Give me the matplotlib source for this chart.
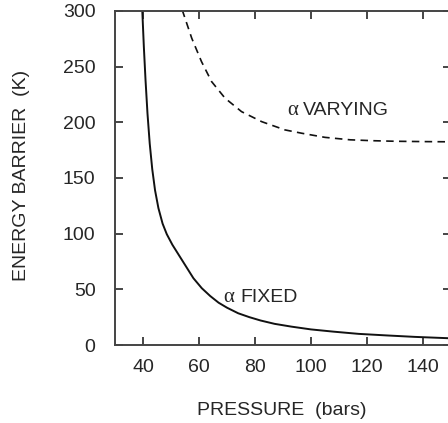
import matplotlib.pyplot as plt

plt.rcParams["font.family"] = ["Liberation Sans", "DejaVu Sans"]

# Curves (pressure in bars, barrier in K)
fixed_pressure = [39.75, 40.3, 40.9, 41.6, 42.4, 43.3, 44.3, 45.5, 47.0, 48.5,
                  50.5, 52.5, 55.0, 58.0, 61.0, 64.0, 67.0, 70.0, 74.0, 78.0,
                  82.0, 87.0, 93.0, 100.0, 108.0, 117.0, 127.0, 137.0, 150.0]
fixed_barrier = [300, 268, 238, 208, 181, 158, 139, 123, 109, 99.5,
                 90, 82, 72, 60, 51, 44, 38, 33.5, 28.5, 25,
                 22, 19, 16.5, 14, 12, 10, 8.6, 7.3, 6]

varying_pressure = [54.0, 57.4, 60.9, 64.5, 69.3, 75.2, 82.4, 90.7, 96.7,
                    105.0, 114.0, 122.0, 130.0, 140.0, 150.0]
varying_barrier = [301, 275.6, 254.5, 236.6, 221.7, 209.6, 200.6, 193.2, 190.2,
                   186.5, 184.3, 183.5, 183.0, 182.7, 182.5]

x_ticks = [40, 60, 80, 100, 120, 140]
y_ticks = [0, 50, 100, 150, 200, 250, 300]

ink = "#262626"

fig = plt.figure(figsize=(4.48, 4.23), dpi=100)
ax = fig.add_axes([115 / 448, 1 - 345 / 423, 336 / 448, 334 / 423])

ax.plot(fixed_pressure, fixed_barrier, color="#111111", lw=1.4)
ax.plot(varying_pressure, varying_barrier, color="#111111", lw=1.2,
        linestyle=(0, (4.5, 3.2)))

# curve labels: serif alpha followed by sans text
ax.text(68.7, 43, "α", fontsize=15, color=ink, va="center", ha="left",
        family="Liberation Serif")
ax.text(74.6, 43, "FIXED", fontsize=14, color=ink, va="center", ha="left")
ax.text(91.6, 211, "α", fontsize=15, color=ink, va="center", ha="left",
        family="Liberation Serif")
ax.text(97.1, 211, "VARYING", fontsize=14, color=ink, va="center", ha="left")

ax.set_xlim(30, 150)
ax.set_ylim(0, 300)
ax.set_xticks(x_ticks)
ax.set_yticks(y_ticks)
ax.tick_params(direction="in", length=6, width=1.2, color=ink, labelcolor=ink,
               labelsize=14, top=True, right=True)
ax.tick_params(axis="x", pad=10)
ax.tick_params(axis="y", pad=14)
for spine in ax.spines.values():
    spine.set_linewidth(1.4)
    spine.set_color("#444444")

fig.text(282 / 448, 1 - 410 / 423, "PRESSURE  (bars)", fontsize=14, color=ink,
         ha="center", va="center")
fig.text(22 / 448, 1 - 175 / 423, "ENERGY BARRIER  (K)", fontsize=14, color=ink,
         ha="center", va="center", rotation=90)

fig.savefig("out.png", dpi=100)
